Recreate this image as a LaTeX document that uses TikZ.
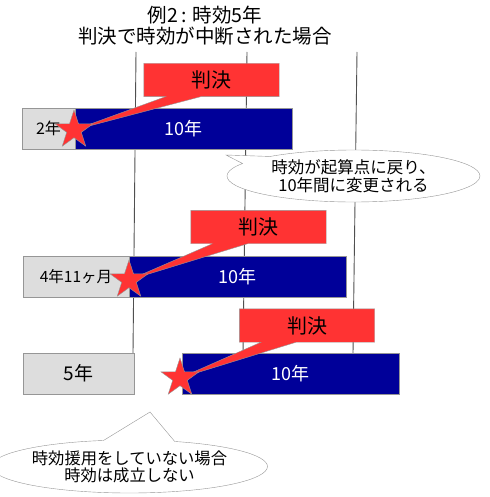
\documentclass[tikz,border=0pt]{standalone}
\usepackage{fontspec}
\setmainfont{Noto Sans CJK JP}
\usetikzlibrary{shapes.geometric,shapes.callouts,calc}
\pgfdeclarelayer{bars}
\pgfdeclarelayer{callout}
\pgfsetlayers{bars,callout,main}
\definecolor{hanred}{RGB}{255,51,51}
\definecolor{kikanblue}{RGB}{0,0,153}
\definecolor{zangray}{RGB}{221,221,221}
\definecolor{edgegray}{RGB}{150,150,150}
\definecolor{gridgray}{RGB}{80,80,80}
\tikzset{every picture/.style={line width=1pt}}
\tikzset{
zanbox/.style={draw=edgegray,fill=zangray,inner sep=0pt,minimum height=41pt},
kikanbox/.style={draw=edgegray,fill=kikanblue,text=white,inner sep=0pt,minimum width=217pt,minimum height=41pt,font=\fontsize{18}{20}\selectfont},
hanbox/.style={inner sep=0pt,minimum width=135pt,minimum height=33pt,font=\fontsize{20}{22}\selectfont},
hancall/.style={draw=edgegray,fill=hanred},
kiten/.style={star,star points=5,star point ratio=2.6,minimum size=40pt,inner sep=0pt,draw=edgegray,fill=hanred},
fukidashi/.style={ellipse callout,draw=edgegray,fill=white,inner sep=0pt,align=center},
gridline/.style={draw=gridgray,line width=0.9pt}
}

\begin{document}
\begin{tikzpicture}[x=1pt,y=1pt,yscale=-1]
\useasboundingbox (0,0) rectangle (489,497);

% Title
\node[font=\fontsize{19.5}{21}\selectfont,align=center] (title) at (205,26) {例2\hspace{3pt}:\hspace{6pt}時効5年\\判決で時効が中断された場合};

\begin{pgfonlayer}{bars}
%Straight Lines
\draw[gridline] (136,52) -- (133,353);
\draw[gridline] (247,52) -- (243,353);
\draw[gridline] (357,52) -- (353,353);

% Row 1
\node[zanbox,minimum width=53pt,font=\fontsize{16}{18}\selectfont] (g1) at (48.5,128.5) {2年};
\node[kikanbox,anchor=west] (b1) at (g1.east) {10年};
% Row 2
\node[zanbox,minimum width=106pt,font=\fontsize{15.5}{18}\selectfont] (g2) at (76,276.5) {4年11ヶ月};
\node[kikanbox,anchor=west] (b2) at (g2.east) {10年};
% Row 3
\node[zanbox,minimum width=111pt,font=\fontsize{19}{21}\selectfont] (g3) at (78.5,373.5) {5年};
\node[kikanbox] (b3) at (290.5,373.5) {10年};
\end{pgfonlayer}

% Text Node
\node[hanbox] (j1) at (211.5,80) {判決};
\node[hanbox] (j2) at (258.5,227) {判決};
\node[hanbox] (j3) at (307,325.5) {判決};

% Stars
\node[kiten] (s1) at (74,130) {};
\node[kiten] (s2) at (129,280) {};
\node[kiten] (s3) at (180,378) {};

\begin{pgfonlayer}{callout}
\foreach \i in {1,2,3}{
\draw[hancall] (j\i.south west) -- (j\i.north west) -- (j\i.north east) -- (j\i.south east)
  -- ($(j\i.south west)!0.42!(j\i.south east)$) -- (s\i.center)
  -- ($(j\i.south west)!0.16!(j\i.south east)$) -- cycle;
}
\end{pgfonlayer}

% Callouts
\coordinate (p1) at (226,155);
\coordinate (p2) at (150,412);
\node[fukidashi,callout absolute pointer={(p1)},callout pointer arc=20,minimum width=253pt,minimum height=52pt,font=\fontsize{16.5}{18}\selectfont] (c1) at (353.5,176) {時効が起算点に戻り、\\10年間に変更される};
\node[fukidashi,callout absolute pointer={(p2)},callout pointer arc=30,minimum width=253pt,minimum height=53pt,font=\fontsize{16.3}{17}\selectfont] (c2) at (129.5,466.5) {時効援用をしていない場合\\時効は成立しない};

\end{tikzpicture}
\end{document}
